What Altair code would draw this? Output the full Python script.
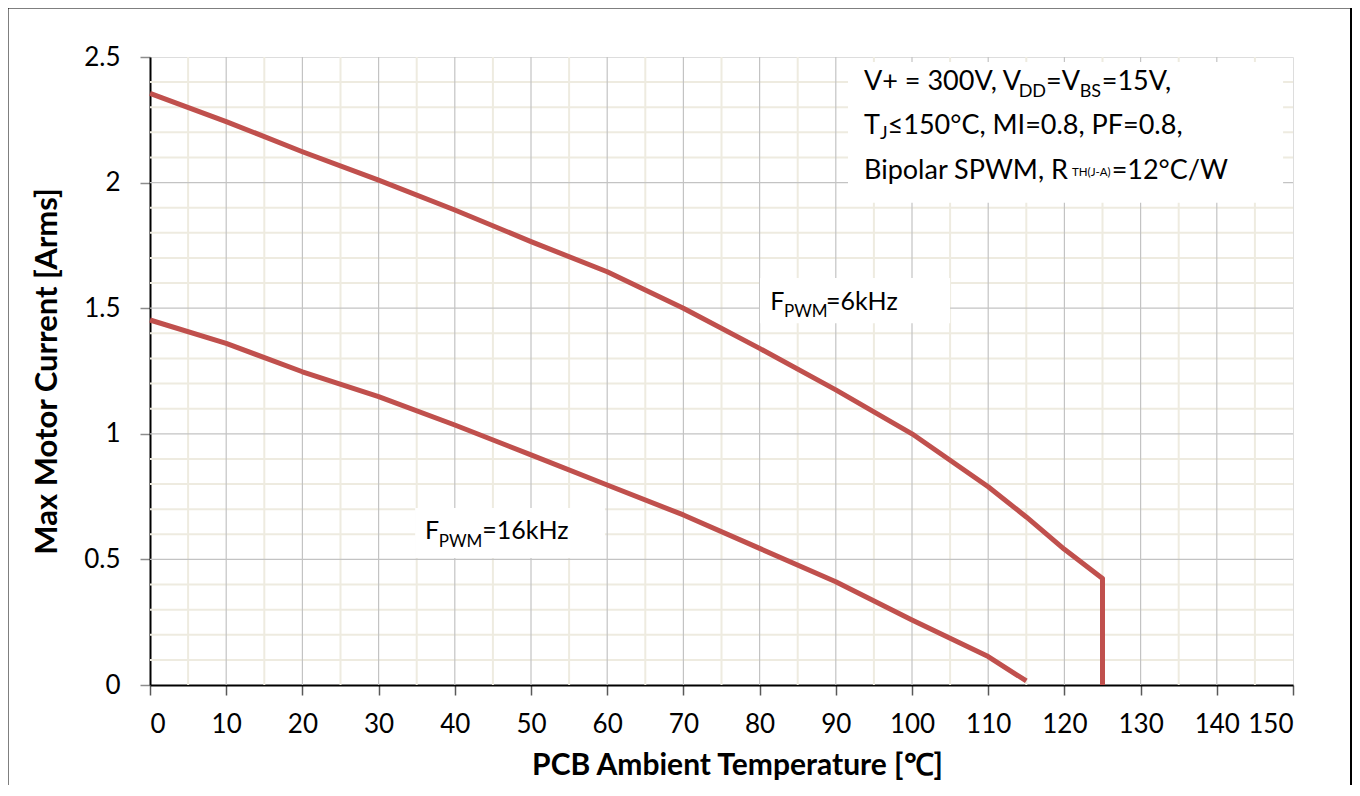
import altair as alt
import pandas as pd

# ---- data ----
t_6k = [0, 10, 20, 30, 40, 50, 60, 70, 80, 90, 100, 110, 115, 120, 125, 125]
i_6k = [2.355, 2.243, 2.123, 2.010, 1.891, 1.765, 1.645, 1.500, 1.340, 1.175, 1.000, 0.789, 0.669, 0.540, 0.424, 0.0]
t_16k = [0, 10, 20, 30, 40, 50, 60, 70, 80, 90, 100, 110, 115]
i_16k = [1.453, 1.360, 1.247, 1.148, 1.035, 0.916, 0.796, 0.677, 0.544, 0.411, 0.259, 0.113, 0.016]

x_ticks = list(range(0, 151, 10))
y_ticks = [0, 0.5, 1, 1.5, 2, 2.5]
x_minor = [5 + 10 * k for k in range(15)]
y_minor = [round(0.1 * k, 1) for k in range(1, 25) if k % 5 != 0]
x_major = list(range(10, 150, 10))
y_major = [0.5, 1.0, 1.5, 2.0]

# annotation text segments (text, x, y, size)
seg_text = ["V+ = 300V, V", "DD", "=V", "BS", "=15V,",
            "T", "J", "≤150°C, MI=0.8, PF=0.8,",
            "Bipolar SPWM, R", "TH(J-A)", "=12°C/W",
            "F", "PWM", "=6kHz",
            "F", "PWM", "=16kHz"]
seg_x = [93.7, 114.0, 117.6, 122.0, 124.9,
         93.7, 95.8, 96.8,
         93.7, 121.0, 126.2,
         81.4, 83.2, 88.7,
         36.1, 37.9, 43.6]
seg_y = [2.369, 2.341, 2.369, 2.341, 2.369,
         2.193, 2.174, 2.193,
         2.015, 2.026, 2.015,
         1.493, 1.465, 1.493,
         0.581, 0.549, 0.581]
seg_size = [27, 18, 27, 18, 27,
            27, 18, 27,
            27, 11.5, 27,
            25, 17, 25,
            25, 17, 25]

box_x = [91.6, 80.05, 34.8]
box_x2 = [148.7, 105.0, 59.7]
box_y = [2.48, 1.62, 0.705]
box_y2 = [1.92, 1.44, 0.506]

# ---- tables ----
curves = pd.DataFrame({
    "t": t_6k + t_16k,
    "i": i_6k + i_16k,
    "series": ["6kHz"] * len(t_6k) + ["16kHz"] * len(t_16k),
    "order": list(range(len(t_6k))) + list(range(len(t_16k))),
})
segs = pd.DataFrame({"text": seg_text, "x": seg_x, "y": seg_y, "size": seg_size})
boxes = pd.DataFrame({"x": box_x, "x2": box_x2, "y": box_y, "y2": box_y2})

FONT = "Lato"
xs = alt.Scale(domain=[0, 150], nice=False, zero=False)
ys = alt.Scale(domain=[0, 2.5], nice=False)

x_axis = alt.Axis(values=x_ticks, grid=False, domainColor="black", domainWidth=2,
                  tickColor="#595959", tickSize=10, tickWidth=1.5, labelFontSize=26,
                  labelFont=FONT, labelColor="black", labelPadding=16,
                  title="PCB Ambient Temperature [℃]", titleFont=FONT, titleFontSize=30,
                  titleFontWeight="bold", titleColor="black", titlePadding=13,
                  titleX=587, titleAlign="center")
y_axis = alt.Axis(values=y_ticks, grid=False, domainColor="black", domainWidth=2,
                  tickColor="#8c8c8c", tickSize=10, tickWidth=1.5, labelFontSize=26,
                  labelFont=FONT, labelColor="black", labelPadding=20,
                  title="Max Motor Current [Arms]", titleFont=FONT, titleFontSize=31,
                  titleFontWeight="bold", titleColor="black", titlePadding=20,
                  format="~g")

minor_v = alt.Chart(pd.DataFrame({"x": x_minor})).mark_rule(color="#EEEBE0", strokeWidth=2).encode(
    x=alt.X("x:Q", scale=xs, axis=x_axis))
minor_h = alt.Chart(pd.DataFrame({"y": y_minor})).mark_rule(color="#EEEBE0", strokeWidth=2).encode(
    y=alt.Y("y:Q", scale=ys, axis=y_axis))
major_v = alt.Chart(pd.DataFrame({"x": x_major})).mark_rule(color="#C3C3C3", strokeWidth=1.2).encode(
    x=alt.X("x:Q", scale=xs))
major_h = alt.Chart(pd.DataFrame({"y": y_major})).mark_rule(color="#C3C3C3", strokeWidth=1.2).encode(
    y=alt.Y("y:Q", scale=ys))

lines = alt.Chart(curves).mark_line(color="#C0504D", strokeWidth=5, strokeJoin="round").encode(
    x=alt.X("t:Q", scale=xs),
    y=alt.Y("i:Q", scale=ys),
    detail="series:N",
    order="order:Q",
)

rects = alt.Chart(boxes).mark_rect(color="white").encode(
    x=alt.X("x:Q", scale=xs), x2="x2:Q",
    y=alt.Y("y:Q", scale=ys), y2="y2:Q",
)

texts = alt.Chart(segs).mark_text(align="left", baseline="alphabetic", font=FONT, color="black").encode(
    x=alt.X("x:Q", scale=xs),
    y=alt.Y("y:Q", scale=ys),
    text="text:N",
    size=alt.Size("size:Q", scale=None, legend=None),
)

frame = alt.Chart(pd.DataFrame({"a": [0]})).mark_rect(
    fill=None, stroke="black", strokeWidth=2, clip=False
).encode(
    x=alt.value(-142.5), x2=alt.value(1201), y=alt.value(-49.5), y2=alt.value(800)
)

chart = alt.layer(minor_v, minor_h, major_v, major_h, lines, rects, texts, frame).properties(
    width=1143, height=628,
    autosize=alt.AutoSizeParams(type="none"),
    padding={"left": 142, "top": 49, "right": 59, "bottom": 100},
).configure_view(stroke="black", strokeWidth=2).configure(font=FONT)

chart.save("out.html", embed_options={"renderer": "svg", "actions": False})
